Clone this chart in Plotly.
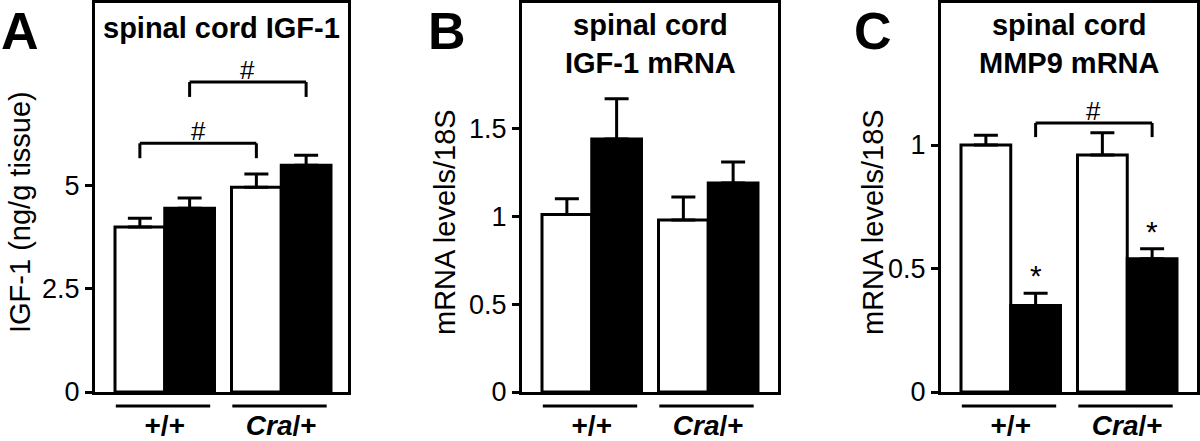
import plotly.graph_objects as go

# ---------------- data ----------------
groups = ["+/+", "Cra/+"]
group_ticktext = ["<b>+/+</b>", "<b><i>Cra</i>/+</b>"]

# Panel A: spinal cord IGF-1 (ng/g tissue)
igf1_white = [3.99, 4.95]
igf1_white_err = [0.21, 0.32]
igf1_black = [4.44, 5.48]
igf1_black_err = [0.25, 0.24]

# Panel B: spinal cord IGF-1 mRNA (levels/18S)
igf1mrna_white = [1.01, 0.98]
igf1mrna_white_err = [0.09, 0.13]
igf1mrna_black = [1.44, 1.19]
igf1mrna_black_err = [0.23, 0.12]

# Panel C: spinal cord MMP9 mRNA (levels/18S)
mmp9_white = [1.00, 0.96]
mmp9_white_err = [0.04, 0.09]
mmp9_black = [0.35, 0.54]
mmp9_black_err = [0.05, 0.04]

# y tick labels
A_ticks = [0, 2.5, 5]
A_ticktext = ["0", "2.5", "5"]
B_ticks = [0, 0.5, 1, 1.5]
B_ticktext = ["0", "0.5", "1", "1.5"]
C_ticks = [0, 0.5, 1]
C_ticktext = ["0", "0.5", "1"]

# significance brackets: (series, group_from, group_to, top level, leg bottom)
A_brackets = [("white", 0, 1, 6.01, 5.65), ("black", 0, 1, 7.49, 7.13)]
C_brackets = [("black", 0, 1, 1.089, 1.032)]
C_stars = [("black", 0), ("black", 1)]

# ---------------- layout helpers ----------------
W, H = 1200, 441
FONT = "Liberation Sans, Arial, Helvetica, sans-serif"
PX_PER_GROUP = 116.5
BAR_HALF = 0.2135  # center offset of each bar within a group
LEFT_GAP_PX = 20


def fx(p):
    return p / W


def fy(p):
    return 1 - p / H


panels = [
    dict(key="", xdom=(95, 348), ylab="IGF-1 (ng/g tissue)", yrange=9.40,
         title="<b>spinal cord IGF-1</b>", letter="A", letter_x=20, ylab_x=20, ylab_y=212,
         white=igf1_white, white_err=igf1_white_err, black=igf1_black, black_err=igf1_black_err,
         ticks=A_ticks, ticktext=A_ticktext, brackets=A_brackets, stars=[]),
    dict(key="2", xdom=(522, 778), ylab="mRNA levels/18S", yrange=2.215,
         title="<b>spinal cord<br>IGF-1 mRNA</b>", letter="B", letter_x=447, ylab_x=445, ylab_y=222,
         white=igf1mrna_white, white_err=igf1mrna_white_err, black=igf1mrna_black, black_err=igf1mrna_black_err,
         ticks=B_ticks, ticktext=B_ticktext, brackets=[], stars=[]),
    dict(key="3", xdom=(941, 1197), ylab="mRNA levels/18S", yrange=1.575,
         title="<b>spinal cord<br>MMP9 mRNA</b>", letter="C", letter_x=873, ylab_x=873, ylab_y=222,
         white=mmp9_white, white_err=mmp9_white_err, black=mmp9_black, black_err=mmp9_black_err,
         ticks=C_ticks, ticktext=C_ticktext, brackets=C_brackets, stars=C_stars),
]

fig = go.Figure()
shapes = []
annotations = []
xpos = list(range(len(groups)))

for p in panels:
    k = p["key"]
    xa, ya = "x" + k, "y" + k
    for series, color in (("white", "white"), ("black", "black")):
        fig.add_trace(go.Bar(
            x=xpos, y=p[series], xaxis=xa, yaxis=ya, name=series,
            marker=dict(color=color, line=dict(color="black", width=3)),
            error_y=dict(type="data", array=p[series + "_err"], arrayminus=[0] * len(groups),
                         symmetric=False, color="black", thickness=3, width=12),
            showlegend=False, hoverinfo="skip",
        ))
    x0p, x1p = p["xdom"]
    width_px = x1p - x0p
    r0 = -2 * BAR_HALF - LEFT_GAP_PX / PX_PER_GROUP
    r1 = r0 + width_px / PX_PER_GROUP
    axis_common = dict(showline=True, mirror=True, linewidth=3, linecolor="black",
                       showgrid=False, zeroline=False, automargin=False, fixedrange=True)
    fig.update_layout(**{
        "xaxis" + k: dict(domain=[fx(x0p), fx(x1p)], range=[r0, r1], anchor=ya,
                          tickmode="array", tickvals=xpos, ticktext=group_ticktext,
                          ticks="", tickfont=dict(size=28, color="black", family=FONT),
                          ticklabelstandoff=6, **axis_common),
        "yaxis" + k: dict(domain=[fy(392), fy(3)], range=[0, p["yrange"]], anchor=xa,
                          tickmode="array", tickvals=p["ticks"], ticktext=p["ticktext"],
                          ticks="outside", ticklen=7, tickwidth=3, tickcolor="black",
                          tickfont=dict(size=27, color="black", family=FONT), **axis_common),
    })
    # group underlines
    for gi in xpos:
        shapes.append(dict(type="line", xref=xa, yref="paper", x0=gi - 0.42, x1=gi + 0.39,
                           y0=fy(406), y1=fy(406), line=dict(color="black", width=3)))
    # brackets
    for series, g0, g1, top, bot in p["brackets"]:
        off = -BAR_HALF if series == "white" else BAR_HALF
        xa0, xa1 = g0 + off, g1 + off
        for (sx0, sy0, sx1, sy1) in ((xa0, bot, xa0, top), (xa0, top, xa1, top), (xa1, top, xa1, bot)):
            shapes.append(dict(type="line", xref=xa, yref=ya, x0=sx0, y0=sy0, x1=sx1, y1=sy1,
                               line=dict(color="black", width=3)))
        annotations.append(dict(xref=xa, yref=ya, x=(xa0 + xa1) / 2, y=top, text="#",
                                showarrow=False, yanchor="bottom", yshift=-5,
                                font=dict(size=26, color="black", family=FONT)))
    for series, gi in p["stars"]:
        off = -BAR_HALF if series == "white" else BAR_HALF
        vals = p[series]
        errs = p[series + "_err"]
        annotations.append(dict(xref=xa, yref=ya, x=gi + off, y=vals[gi] + errs[gi], text="*",
                                showarrow=False, yanchor="bottom", yshift=-1,
                                font=dict(size=30, color="black", family=FONT)))
    # panel title
    annotations.append(dict(xref="paper", yref="paper", x=fx((x0p + x1p) / 2),
                            y=fy(28 if "<br>" not in p["title"] else 44),
                            text=p["title"], showarrow=False, xanchor="center", yanchor="middle",
                            font=dict(size=29, color="black", family=FONT)))
    # panel letter
    annotations.append(dict(xref="paper", yref="paper", x=fx(p["letter_x"]), y=fy(30.5),
                            text="<b>" + p["letter"] + "</b>", showarrow=False,
                            xanchor="center", yanchor="middle",
                            font=dict(size=52, color="black", family=FONT)))
    # y axis title
    annotations.append(dict(xref="paper", yref="paper", x=fx(p["ylab_x"]), y=fy(p["ylab_y"]),
                            text=p["ylab"], textangle=-90, showarrow=False,
                            xanchor="center", yanchor="middle",
                            font=dict(size=29, color="black", family=FONT)))

fig.update_layout(
    template="none",
    width=W, height=H, margin=dict(l=0, r=0, t=0, b=0, autoexpand=False),
    paper_bgcolor="white", plot_bgcolor="white",
    barmode="group", bargap=0.146, bargroupgap=0,
    showlegend=False, shapes=shapes, annotations=annotations,
    font=dict(family=FONT, color="black"),
)

fig.write_html("out.html", config={"displayModeBar": False, "staticPlot": True},
               post_script="document.body.style.margin='0';document.body.style.overflow='hidden';")
